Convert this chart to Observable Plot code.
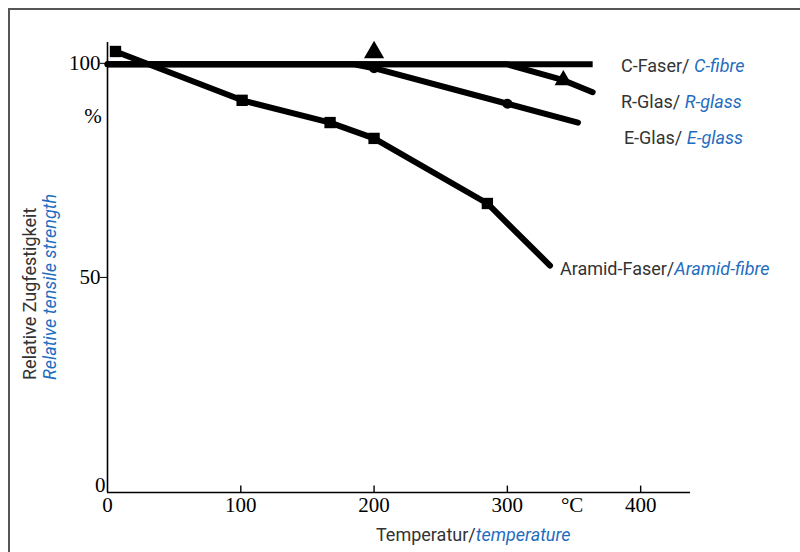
<!DOCTYPE html>
<html>
<head>
<meta charset="utf-8">
<script src="https://cdn.jsdelivr.net/npm/d3@7"></script>
<script src="https://cdn.jsdelivr.net/npm/@observablehq/plot@0.6"></script>
<style>
  html, body { margin: 0; padding: 0; background: #fff; }
  #wrap { position: relative; width: 800px; height: 552px; overflow: hidden; }
  #frame { position: absolute; left: 8px; top: 8px; width: 800px; height: 560px;
           border-top: 2px solid #555; border-left: 2px solid #555; }
  #chart { position: absolute; left: 0; top: 0; }
</style>
</head>
<body>
<div id="wrap"><div id="frame"></div><div id="chart"></div></div>
<script>
// ---- data (temperature °C, relative tensile strength %) ----
const cFibreT = [0, 364];
const cFibreV = [100, 100];
const cFibreMarkT = [200];
const cFibreMarkV = [102.8];

const rGlassT = [0, 300, 342, 364];
const rGlassV = [100, 100, 96.3, 93.5];
const rGlassMarkT = [342];
const rGlassMarkV = [96.3];

const eGlassT = [0, 185, 200, 300, 353];
const eGlassV = [100, 100, 99.1, 90.8, 86.4];
const eGlassMarkT = [200, 300];
const eGlassMarkV = [99.1, 90.8];

const aramidT = [6, 101, 167, 200, 285, 332];
const aramidV = [103, 91.6, 86.4, 82.7, 67.5, 53];
const aramidMarkT = [6, 101, 167, 200, 285];
const aramidMarkV = [103, 91.6, 86.4, 82.7, 67.5];

const xTicks = [0, 100, 200, 300, 400];
const yTicks = [50, 100];

const seriesLabels = [
  {de: "C-Faser/ ", en: "C-fibre", t: 385.6, v: 99.6},
  {de: "R-Glas/ ", en: "R-glass", t: 385.6, v: 91.1},
  {de: "E-Glas/ ", en: "E-glass", t: 387.8, v: 82.7},
  {de: "Aramid-Faser/", en: "Aramid-fibre", t: 339.8, v: 52.1}
];

const toRows = (T, V) => T.map((t, i) => ({t, v: V[i]}));

const lineStyle = {x: "t", y: "v", stroke: "black", strokeWidth: 6, strokeLinejoin: "round", strokeLinecap: "round"};

const plot = Plot.plot({
  width: 800,
  height: 552,
  marginLeft: 107,
  marginRight: 110,
  marginTop: 42,
  marginBottom: 60,
  style: {fontFamily: "Liberation Serif", fontSize: "21px", color: "black", background: "transparent"},
  x: {domain: [0, 437.4]},
  y: {domain: [0, 105.1]},
  marks: [
    Plot.ruleX([0], {stroke: "black", strokeWidth: 1.6}),
    Plot.ruleY([0], {stroke: "black", strokeWidth: 1.6}),
    Plot.ruleX(xTicks.filter(d => d > 0), {y1: 0, y2: 1.5, stroke: "black", strokeWidth: 1.4}),
    Plot.axisX({ticks: xTicks, tickSize: 0, tickPadding: 5, label: null, fill: "black", fontFamily: "Liberation Serif", fontSize: 21}),
    Plot.axisY({ticks: yTicks, tickSize: 7, tickPadding: 0, label: null, fill: "black", fontFamily: "Liberation Serif", fontSize: 21, dy: -1}),
    Plot.axisY({ticks: [0], tickSize: 0, tickPadding: 2, label: null, fill: "black", fontFamily: "Liberation Serif", fontSize: 21, dy: -7}),
    Plot.line(toRows(aramidT, aramidV), lineStyle),
    Plot.line(toRows(eGlassT, eGlassV), lineStyle),
    Plot.line(toRows(rGlassT, rGlassV), lineStyle),
    Plot.line(toRows(cFibreT, cFibreV), {...lineStyle, strokeLinecap: "butt"}),
    Plot.dot(toRows(aramidMarkT, aramidMarkV), {x: "t", y: "v", symbol: "square", r: 6.4, fill: "black"}),
    Plot.dot(toRows(eGlassMarkT, eGlassMarkV), {x: "t", y: "v", symbol: "circle", r: 5, fill: "black"}),
    Plot.dot(toRows(rGlassMarkT, rGlassMarkV), {x: "t", y: "v", symbol: "triangle", r: 6.5, fill: "black"}),
    Plot.dot(toRows(cFibreMarkT, cFibreMarkV), {x: "t", y: "v", symbol: "triangle", r: 7.5, fill: "black"})
  ]
});

document.getElementById("chart").appendChild(plot);

const sx = plot.scale("x"), sy = plot.scale("y");
const svg = d3.select(plot);
const sans = "Roboto, 'Liberation Sans', sans-serif";
const grey = "#333";
const blue = "#1f6dbf";

// series labels (two-colour)
for (const L of seriesLabels) {
  const t = svg.append("text")
    .attr("x", sx.apply(L.t)).attr("y", sy.apply(L.v))
    .attr("dy", "0.35em").attr("text-anchor", "start")
    .style("font-family", sans).style("font-size", "18px");
  t.append("tspan").attr("fill", grey).text(L.de);
  t.append("tspan").attr("fill", blue).style("font-style", "italic").text(L.en);
}

// unit labels
svg.append("text").attr("x", sx.apply(0) - 14).attr("y", sy.apply(88)).attr("dy", "0.35em")
  .attr("text-anchor", "middle").style("font-family", "Liberation Serif").style("font-size", "21px")
  .text("%");
svg.append("text").attr("x", sx.apply(349)).attr("y", sy.apply(0) + 5).attr("dy", "0.71em")
  .attr("text-anchor", "middle").style("font-family", "Liberation Serif").style("font-size", "21px")
  .text("°C");

// x axis title
const xt = svg.append("text").attr("x", sx.apply(0) + 269).attr("y", sy.apply(0) + 43).attr("dy", "0.35em")
  .attr("text-anchor", "start")
  .style("font-family", sans).style("font-size", "18px");
xt.append("tspan").attr("fill", grey).text("Temperatur/");
xt.append("tspan").attr("fill", blue).style("font-style", "italic").text("temperature");

// y axis title (rotated, two lines)
const yBase = 380;
svg.append("text").attr("transform", `translate(36,${yBase}) rotate(-90)`).attr("text-anchor", "start")
  .style("font-family", sans).style("font-size", "18px").attr("fill", grey)
  .text("Relative Zugfestigkeit");
svg.append("text").attr("transform", `translate(56,${yBase}) rotate(-90)`).attr("text-anchor", "start")
  .style("font-family", sans).style("font-size", "18px").attr("fill", blue).style("font-style", "italic")
  .text("Relative tensile strength");
</script>
</body>
</html>
